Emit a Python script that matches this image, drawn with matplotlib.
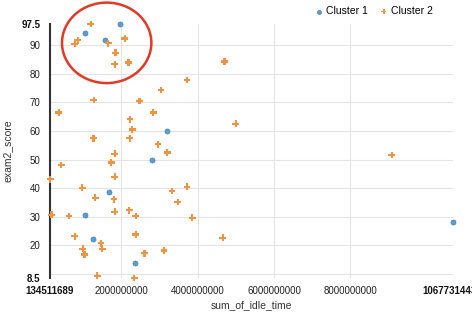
import matplotlib.pyplot as plt
from matplotlib.patches import Ellipse

plt.rcParams['font.family'] = ['Liberation Sans', 'DejaVu Sans']

x_min = 134511689
x_max = 10677314432
y_min = 8.5
y_max = 97.5

cluster1_x = [1.04e9, 1.96e9, 1.57e9, 3.20e9, 2.80e9, 1.69e9, 1.05e9, 1.27e9, 2.35e9, 10.6773e9]
cluster1_y = [94.4, 97.5, 91.8, 60.0, 50.0, 38.5, 30.7, 22.2, 13.7, 28.1]

cluster2_x = [1.20e9, 0.86e9, 0.78e9, 1.66e9, 2.09e9, 1.85e9, 1.83e9, 2.19e9, 4.70e9, 3.72e9,
              3.04e9, 1.28e9, 2.48e9, 0.36e9, 2.84e9, 2.23e9, 5.00e9, 2.29e9, 1.27e9, 2.22e9,
              2.96e9, 3.20e9, 1.83e9, 9.08e9, 0.43e9, 1.74e9, 0.142e9, 1.83e9, 0.98e9, 3.72e9,
              3.33e9, 1.32e9, 1.81e9, 3.48e9, 1.83e9, 2.21e9, 0.17e9, 0.63e9, 2.38e9, 3.86e9,
              0.78e9, 2.38e9, 4.66e9, 0.99e9, 1.47e9, 1.50e9, 3.12e9, 1.04e9, 2.61e9, 1.37e9,
              2.34e9]
cluster2_y = [97.5, 91.8, 90.5, 90.8, 92.4, 87.4, 83.4, 84.0, 84.4, 77.9,
              74.4, 70.9, 70.5, 66.5, 66.5, 64.1, 62.5, 60.5, 57.5, 57.5,
              55.4, 52.5, 52.0, 51.6, 48.1, 49.0, 43.1, 44.0, 40.1, 40.5,
              39.0, 36.6, 36.1, 35.1, 31.7, 32.2, 30.7, 30.2, 30.2, 29.6,
              23.1, 23.7, 22.6, 18.7, 20.7, 18.7, 18.1, 16.7, 17.2, 9.3,
              8.5]

x_ticks = [x_min, 2e9, 4e9, 6e9, 8e9, x_max]
x_tick_labels = ['134511689', '2000000000', '4000000000', '6000000000', '8000000000', '10677314432']
x_grid = [2e9, 4e9, 6e9, 8e9]
y_ticks = [8.5, 20, 30, 40, 50, 60, 70, 80, 90, 97.5]
y_tick_labels = ['8.5', '20', '30', '40', '50', '60', '70', '80', '90', '97.5']
y_grid = [10, 20, 30, 40, 50, 60, 70, 80, 90]

fig = plt.figure(figsize=(4.72, 3.12), dpi=100)
ax = fig.add_axes([0.106, 0.109, 0.853, 0.814])

for g in x_grid:
    ax.axvline(g, color='#e4e4e4', lw=0.8, zorder=0)
for g in y_grid:
    ax.axhline(g, color='#e4e4e4', lw=0.8, zorder=0)

ax.scatter(cluster1_x, cluster1_y, s=13, marker='o', color='#5b9fd2',
           edgecolors='#3f7fb0', linewidths=0.5, label='Cluster 1', zorder=3, clip_on=False)
ax.scatter(cluster2_x, cluster2_y, s=24, marker='P', color='#f39340',
           edgecolors='none', label='Cluster 2', zorder=3, clip_on=False)

ax.set_xlim(x_min, x_max)
ax.set_ylim(y_min, y_max)
ax.set_xticks(x_ticks, x_tick_labels)
ax.set_yticks(y_ticks, y_tick_labels)
ax.tick_params(length=0, labelsize=7, colors='#222222')
ax.tick_params(axis='x', pad=6)
ax.tick_params(axis='y', pad=7)
for lbl in (ax.get_xticklabels()[0], ax.get_xticklabels()[-1],
            ax.get_yticklabels()[0], ax.get_yticklabels()[-1]):
    lbl.set_fontweight('bold')
    lbl.set_color('#111111')

for side in ['top', 'right', 'bottom']:
    ax.spines[side].set_visible(False)
ax.spines['left'].set_color('#333333')
ax.spines['left'].set_linewidth(1.5)

ax.set_xlabel('sum_of_idle_time', fontsize=7.5, color='#333333', labelpad=3)
ax.set_ylabel('exam2_score', fontsize=7.5, color='#333333', labelpad=6)

ax.add_patch(Ellipse((1.618e9, 90.9), 2.34e9, 28.2, fill=False,
                     edgecolor='#e23a25', lw=1.8, clip_on=False, zorder=4))

fig.legend(loc='upper right', bbox_to_anchor=(0.937, 1.01), ncol=2, frameon=False,
           fontsize=7.5, handlelength=0.8, handletextpad=0.3, columnspacing=1.1,
           scatterpoints=1, markerscale=0.8)

fig.savefig('out.png', dpi=100)
